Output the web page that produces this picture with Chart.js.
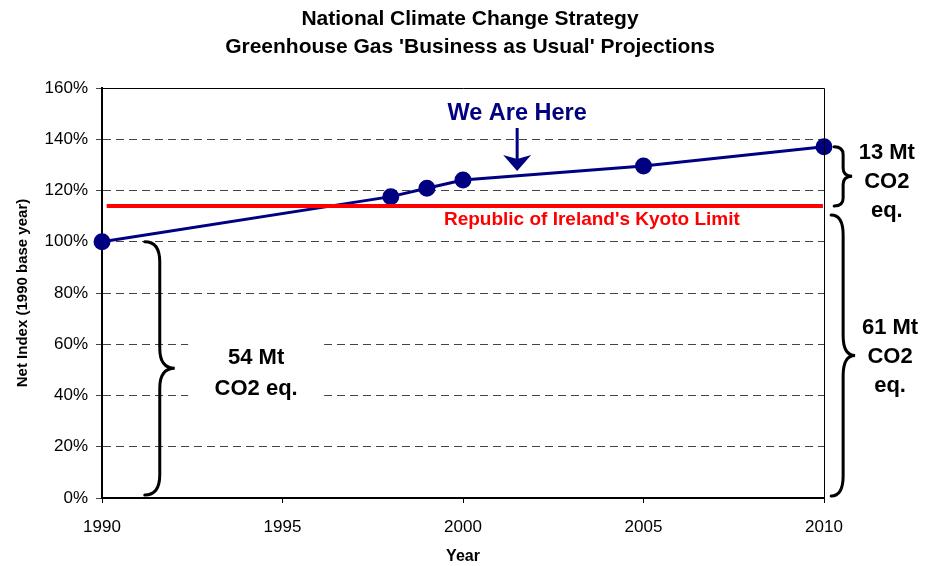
<!DOCTYPE html>
<html>
<head>
<meta charset="utf-8">
<title>National Climate Change Strategy</title>
<script src="https://cdn.jsdelivr.net/npm/chart.js@4/dist/chart.umd.min.js"></script>
<style>
  html, body { margin: 0; padding: 0; background: #fff; }
  #wrap { width: 932px; height: 566px; }
</style>
</head>
<body>
<div id="wrap"><canvas id="grafico" width="932" height="566"></canvas></div>
<script>
const ctx = document.getElementById('grafico').getContext('2d');

// Projections (net index, 1990 = 100%)
const anos = [1990, 1998, 1999, 2000, 2005, 2010];
const indice = [100, 117.6, 120.9, 124.1, 129.6, 137.1];

// Kyoto limit line
const kyotoAnos = [1990.13, 2009.97];
const kyoto = 114;

const tituloLinhas = ['National Climate Change Strategy', "Greenhouse Gas 'Business as Usual' Projections"];
const yTicks = [0, 20, 40, 60, 80, 100, 120, 140, 160];
const xTicks = [1990, 1995, 2000, 2005, 2010];

const fonte = "'Liberation Sans', Arial, sans-serif";
const azul = '#000080';
const vermelho = '#ff0000';

// Curly brace: spine at x, ends curl back by w, tip points out by w
function chave(c, x, y1, y2, w, h) {
  const ym = (y1 + y2) / 2;
  c.beginPath();
  c.moveTo(x - w, y1);
  c.quadraticCurveTo(x, y1, x, y1 + h);
  c.lineTo(x, ym - h);
  c.quadraticCurveTo(x, ym, x + w, ym);
  c.quadraticCurveTo(x, ym, x, ym + h);
  c.lineTo(x, y2 - h);
  c.quadraticCurveTo(x, y2, x - w, y2);
  c.stroke();
}

function textoLinhas(c, linhas, x, yc, passo) {
  const y0 = yc - (linhas.length - 1) * passo / 2;
  linhas.forEach((l, i) => c.fillText(l, x, y0 + i * passo));
}

const anotacoes = {
  id: 'anotacoes',
  afterDatasetsDraw(chart) {
    const c = chart.ctx;
    const xs = chart.scales.x;
    const ys = chart.scales.y;
    const a = chart.chartArea;
    c.save();

    // plot frame (top and right)
    c.strokeStyle = '#000';
    c.lineWidth = 1;
    c.beginPath();
    c.moveTo(a.left, a.top + 0.5);
    c.lineTo(a.right + 0.5, a.top + 0.5);
    c.lineTo(a.right + 0.5, a.bottom);
    c.stroke();

    // title
    c.fillStyle = '#000';
    c.textAlign = 'center';
    c.textBaseline = 'middle';
    c.font = 'bold 21px ' + fonte;
    c.fillText(tituloLinhas[0], 470, 19);
    c.fillText(tituloLinhas[1], 470, 47);

    // braces
    c.strokeStyle = '#000';
    c.lineWidth = 3;
    c.lineCap = 'round';
    chave(c, xs.getPixelForValue(1991.6), ys.getPixelForValue(100), ys.getPixelForValue(1.2), 15, 20);
    chave(c, xs.getPixelForValue(2010.53), ys.getPixelForValue(indice[indice.length - 1]), ys.getPixelForValue(kyoto), 9, 8);
    chave(c, xs.getPixelForValue(2010.53), ys.getPixelForValue(110.4), ys.getPixelForValue(0.8), 12, 20);

    // 54 Mt label on a white patch
    const x54 = xs.getPixelForValue(1994.27);
    const y54 = ys.getPixelForValue(48.6);
    c.fillStyle = '#fff';
    c.fillRect(x54 - 68, y54 - 33, 136, 66);
    c.fillStyle = '#000';
    c.font = 'bold 22px ' + fonte;
    textoLinhas(c, ['54 Mt', 'CO2 eq.'], x54, y54, 31);

    textoLinhas(c, ['13 Mt', 'CO2', 'eq.'], xs.getPixelForValue(2011.74), ys.getPixelForValue(123.3), 29);
    textoLinhas(c, ['61 Mt', 'CO2', 'eq.'], xs.getPixelForValue(2011.83), ys.getPixelForValue(55), 29);

    // Kyoto label
    c.fillStyle = vermelho;
    c.font = 'bold 19px ' + fonte;
    c.fillText("Republic of Ireland's Kyoto Limit", xs.getPixelForValue(2003.57), ys.getPixelForValue(108.5));

    // "We Are Here" + arrow
    const xa = xs.getPixelForValue(2001.5);
    c.fillStyle = azul;
    c.font = 'bold 23.5px ' + fonte;
    c.fillText('We Are Here', xa, ys.getPixelForValue(150.2));
    const yTopo = ys.getPixelForValue(144.4);
    const yPonta = ys.getPixelForValue(127.6);
    c.strokeStyle = azul;
    c.lineWidth = 3;
    c.lineCap = 'butt';
    c.beginPath();
    c.moveTo(xa, yTopo);
    c.lineTo(xa, yPonta - 8);
    c.stroke();
    c.beginPath();
    c.moveTo(xa, yPonta);
    c.lineTo(xa - 14, yPonta - 16);
    c.lineTo(xa, yPonta - 12);
    c.lineTo(xa + 14, yPonta - 16);
    c.closePath();
    c.fill();

    c.restore();
  }
};

const config = {
  type: 'line',
  data: {
    datasets: [
      {
        label: 'Kyoto Limit',
        data: kyotoAnos.map(x => ({ x, y: kyoto })),
        borderColor: vermelho,
        borderWidth: 4,
        pointRadius: 0,
        order: 0
      },
      {
        label: 'Net Index',
        data: anos.map((x, i) => ({ x, y: indice[i] })),
        borderColor: azul,
        backgroundColor: azul,
        borderWidth: 3,
        pointRadius: 7,
        pointBackgroundColor: azul,
        pointBorderColor: azul,
        clip: false,
        order: 1
      }
    ]
  },
  options: {
    responsive: false,
    animation: false,
    layout: { padding: { left: 10, top: 88, right: 108, bottom: 0 } },
    plugins: {
      legend: false,
      tooltip: { enabled: false },
      title: { display: false }
    },
    scales: {
      x: {
        type: 'linear',
        min: 1990,
        max: 2010,
        afterFit: s => { s.height = 68; },
        afterBuildTicks: s => { s.ticks = xTicks.map(v => ({ value: v })); },
        ticks: {
          color: '#000',
          padding: 14,
          font: { family: fonte, size: 17 },
          callback: v => String(v)
        },
        grid: { drawOnChartArea: false, drawTicks: true, tickLength: 5, color: '#000' },
        border: { color: '#000', width: 2 },
        title: {
          display: true,
          text: 'Year',
          color: '#000',
          font: { family: fonte, size: 16, weight: 'bold' },
          padding: { top: 0, bottom: 0 }
        }
      },
      y: {
        min: 0,
        max: 160,
        afterFit: s => { s.width = 92; },
        afterBuildTicks: s => { s.ticks = yTicks.map(v => ({ value: v })); },
        ticks: {
          color: '#000',
          padding: 8,
          font: { family: fonte, size: 17 },
          callback: v => v + '%'
        },
        grid: { color: '#444', lineWidth: 1, tickLength: 6 },
        border: { color: '#000', width: 2, dash: [8, 5] },
        title: {
          display: true,
          text: 'Net Index (1990 base year)',
          color: '#000',
          font: { family: fonte, size: 15, weight: 'bold' },
          padding: { top: 4, bottom: 4 }
        }
      }
    }
  },
  plugins: [anotacoes]
};

new Chart(ctx, config);
</script>
</body>
</html>
